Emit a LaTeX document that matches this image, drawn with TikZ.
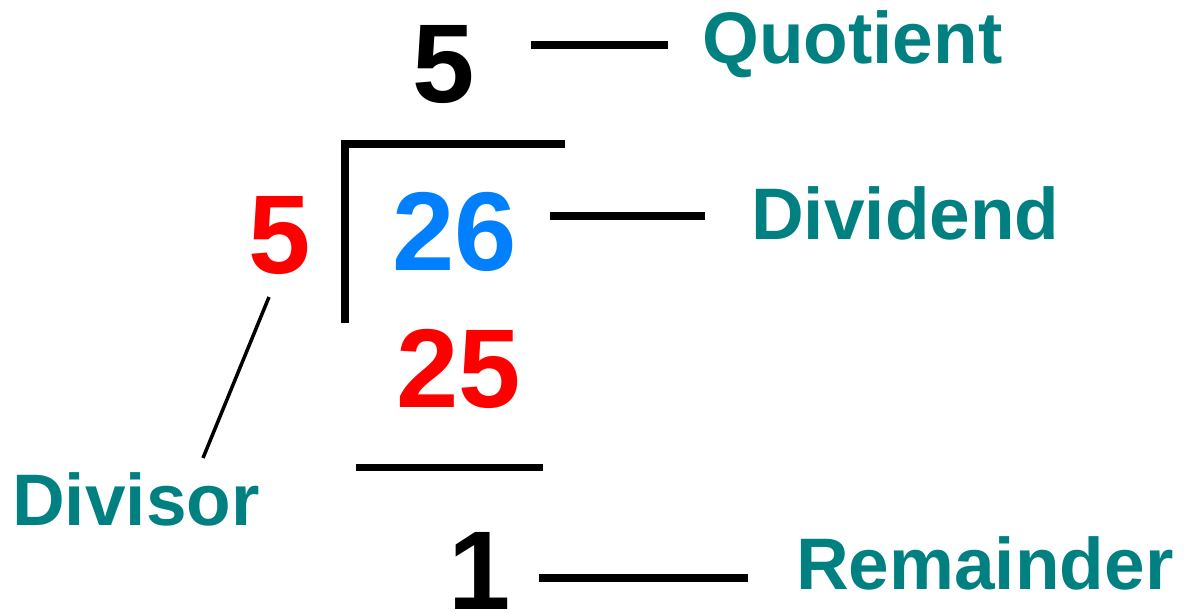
\documentclass[tikz,border=0pt]{standalone}
\usepackage{fontspec}
\setmainfont{Liberation Sans}
\definecolor{lbl}{HTML}{008080}
\definecolor{dred}{HTML}{FF0000}
\definecolor{dblue}{HTML}{0080FF}
\tikzset{
  num/.style={inner sep=0pt, anchor=center, text height=80pt, text depth=0pt, font=\fontsize{112}{112}\selectfont\bfseries},
  lab/.style={inner sep=0pt, anchor=base west, text=lbl, font=\fontsize{73}{73}\selectfont\bfseries},
  lead/.style={line width=8pt},
}
\begin{document}
\begin{tikzpicture}[x=1pt,y=-1pt]
\useasboundingbox (0,0) rectangle (1184,613);
% numbers
\node[num] (q) at (443.5,62) {5};
\node[num, text=dred] (dv) at (280,233) {5};
\node[num, text=dblue] (dd) at (455,230) {26};
\node[num, text=dred] (pr) at (459,367) {25};
\node[num] (r) at (479.5,569) {1};
% labels
\node[lab] (ql) at (702,63) {Quotient};
\node[lab] (ddl) at (751,239) {Dividend};
\node[lab] (dvl) at (12,525) {Divisor};
\node[lab] (rl) at (796,589) {Remainder};
% bracket
\coordinate (b1) at (345,323);
\coordinate (b2) at (345,144);
\coordinate (b3) at (565,144);
\draw[line width=8pt] (b1) -- (b2) -- (b3);
% subtraction line
\coordinate (s1) at (356,467);
\coordinate (s2) at (543,467);
\draw[line width=7pt] (s1) -- (s2);
% leaders
\coordinate (q1) at (531,45);
\coordinate (q2) at (668,45);
\draw[lead] (q1) -- (q2);
\coordinate (d1) at (550,216);
\coordinate (d2) at (705,216);
\draw[lead] (d1) -- (d2);
\coordinate (r1) at (539,578);
\coordinate (r2) at (748,578);
\draw[lead] (r1) -- (r2);
\coordinate (v1) at (269,297);
\coordinate (v2) at (203,458);
\draw[line width=3.5pt] (v1) -- (v2);
\end{tikzpicture}
\end{document}
